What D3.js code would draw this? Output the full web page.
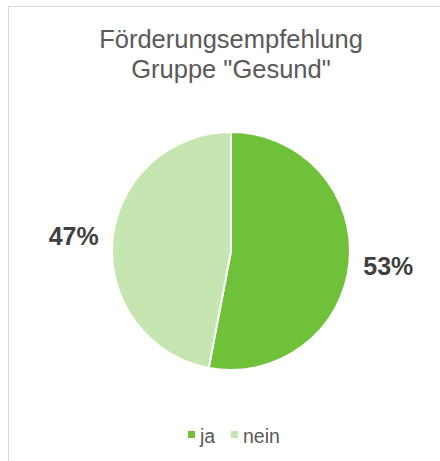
<!DOCTYPE html>
<html>
<head>
<meta charset="utf-8">
<script src="https://cdn.jsdelivr.net/npm/d3@7"></script>
<style>
  body { margin: 0; background: #fff; }
  svg { display: block; font-family: "Liberation Sans", Arial, sans-serif; }
</style>
</head>
<body>
<div id="chart"></div>
<script>
const TITLE_LINES = ["Förderungsempfehlung", 'Gruppe "Gesund"'];
const categories = ["ja", "nein"];
const values = [53, 47];
const colors = ["#6fc13a", "#c5e6b1"];

const width = 440;
const height = 461;

const svg = d3.select("#chart")
  .append("svg")
  .attr("width", width)
  .attr("height", height);

// chart area border
svg.append("rect")
  .attr("x", 8.5)
  .attr("y", 6.5)
  .attr("width", width)
  .attr("height", height)
  .attr("fill", "#fff")
  .attr("stroke", "#d9d9d9")
  .attr("stroke-width", 1);

svg.append("text")
  .attr("text-anchor", "middle")
  .attr("fill", "#595959")
  .style("font-size", "25.5px")
  .selectAll("tspan")
  .data(TITLE_LINES)
  .enter()
  .append("tspan")
  .attr("x", 231)
  .attr("y", (d, i) => 48 + i * 30)
  .text(d => d);

const cx = 231, cy = 251, radius = 119;
const color = d3.scaleOrdinal(categories, colors);

const pie = d3.pie().sort(null).value(d => d.value);
const data = categories.map((c, i) => ({ name: c, value: values[i] }));
const arcs = pie(data);

const arc = d3.arc().innerRadius(0).outerRadius(radius);
const labelArc = d3.arc().innerRadius(158).outerRadius(158);

const g = svg.append("g").attr("transform", `translate(${cx},${cy})`);

g.selectAll("path")
  .data(arcs)
  .enter()
  .append("path")
  .attr("d", arc)
  .attr("fill", d => color(d.data.name))
  .attr("stroke", "#fff")
  .attr("stroke-width", 2);

g.selectAll("text")
  .data(arcs)
  .enter()
  .append("text")
  .attr("transform", d => `translate(${labelArc.centroid(d)})`)
  .attr("text-anchor", "middle")
  .attr("dy", "0.35em")
  .attr("fill", "#404040")
  .style("font-size", "25px")
  .style("font-weight", "bold")
  .text(d => d3.format(".0%")(d.data.value / d3.sum(values)));

// legend
const legendX = [188, 231];
const legend = svg.append("g")
  .selectAll("g")
  .data(categories)
  .enter()
  .append("g")
  .attr("transform", (d, i) => `translate(${legendX[i]},431)`);

legend.append("rect")
  .attr("width", 7)
  .attr("height", 7)
  .attr("fill", d => color(d));

legend.append("text")
  .attr("x", 12)
  .attr("y", 12)
  .attr("fill", "#595959")
  .style("font-size", "19.5px")
  .text(d => d);
</script>
</body>
</html>
